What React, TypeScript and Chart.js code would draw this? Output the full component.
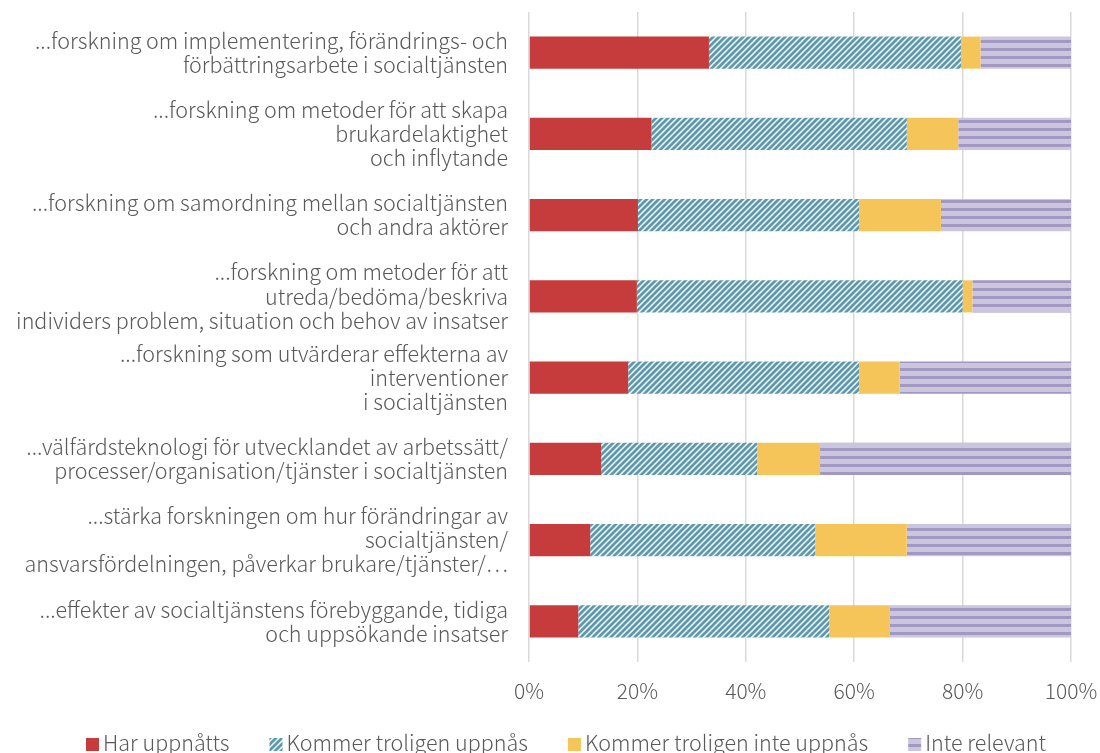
import React, { useEffect, useRef } from "react";
import { Chart, registerables } from "chart.js";

Chart.register(...registerables);

const categories: string[][] = [
  ["...forskning om implementering, förändrings- och", "förbättringsarbete i socialtjänsten"],
  ["...forskning om metoder för att skapa", "brukardelaktighet", "och inflytande"],
  ["...forskning om samordning mellan socialtjänsten", "och andra aktörer"],
  ["...forskning om metoder för att", "utreda/bedöma/beskriva", "individers problem, situation och behov av insatser"],
  ["...forskning som utvärderar effekterna av", "interventioner", "i socialtjänsten"],
  ["...välfärdsteknologi för utvecklandet av arbetssätt/", "processer/organisation/tjänster i socialtjänsten"],
  ["...stärka forskningen om hur förändringar av", "socialtjänsten/", "ansvarsfördelningen, påverkar brukare/tjänster/⋯"],
  ["...effekter av socialtjänstens förebyggande, tidiga", "och uppsökande insatser"],
];

const seriesNames = [
  "Har uppnåtts",
  "Kommer troligen uppnås",
  "Kommer troligen inte uppnås",
  "Inte relevant",
];

const harUppnatts = [33.2, 22.6, 20.1, 19.9, 18.3, 13.3, 11.3, 9.1];
const kommerUppnas = [46.5, 47.1, 40.8, 60.1, 42.6, 28.8, 41.5, 46.3];
const kommerInteUppnas = [3.6, 9.5, 15.1, 1.8, 7.5, 11.6, 16.9, 11.2];
const inteRelevant = [16.7, 20.8, 24.0, 18.2, 31.6, 46.3, 30.3, 33.4];

const xTicks = [0, 20, 40, 60, 80, 100];

const FONT = '"Noto Sans CJK JP", "Noto Sans", sans-serif';
const TEXT = "#595959";

function makeHatch(): CanvasPattern | string {
  const s = 6;
  const c = document.createElement("canvas");
  c.width = s;
  c.height = s;
  const g = c.getContext("2d");
  if (!g) return "#5f9db5";
  g.fillStyle = "#ffffff";
  g.fillRect(0, 0, s, s);
  g.strokeStyle = "#5a99b2";
  g.lineWidth = 2.8;
  g.beginPath();
  g.moveTo(0, s);
  g.lineTo(s, 0);
  g.moveTo(-1, 1);
  g.lineTo(1, -1);
  g.moveTo(s - 1, s + 1);
  g.lineTo(s + 1, s - 1);
  g.stroke();
  return g.createPattern(c, "repeat") || "#5f9db5";
}

function makeStripes(): CanvasPattern | string {
  const c = document.createElement("canvas");
  c.width = 8;
  c.height = 8;
  const g = c.getContext("2d");
  if (!g) return "#b8b1d1";
  g.fillStyle = "#cbc6de";
  g.fillRect(0, 0, 8, 8);
  g.fillStyle = "#a199c1";
  g.fillRect(0, 0, 8, 3);
  return g.createPattern(c, "repeat") || "#b8b1d1";
}

const legendPlugin = {
  id: "bottomLegend",
  afterDraw(chart: any) {
    const ctx: CanvasRenderingContext2D = chart.ctx;
    const ds = chart.data.datasets;
    ctx.save();
    ctx.font = `300 21.5px ${FONT}`;
    ctx.textBaseline = "alphabetic";
    ctx.textAlign = "left";
    const box = 13;
    const gapBox = 4;
    const gapItem = 40;
    const widths = ds.map((d: any) => box + gapBox + ctx.measureText(d.label).width);
    const total = widths.reduce((a: number, b: number) => a + b, 0) + gapItem * (ds.length - 1);
    let x = 566 - total / 2;
    const baseline = chart.height - 2;
    ds.forEach((d: any, i: number) => {
      ctx.fillStyle = d.backgroundColor;
      ctx.fillRect(x, baseline - box, box, box);
      ctx.fillStyle = TEXT;
      ctx.fillText(d.label, x + box + gapBox, baseline);
      x += widths[i] + gapItem;
    });
    ctx.restore();
  },
};

export default function App() {
  const ref = useRef<HTMLCanvasElement>(null);
  useEffect(() => {
    if (!ref.current) return;
    const hatch = makeHatch();
    const stripes = makeStripes();
    const chart = new Chart(ref.current, {
      type: "bar",
      data: {
        labels: categories,
        datasets: [
          { label: seriesNames[0], data: harUppnatts, backgroundColor: "#c63b3b" },
          { label: seriesNames[1], data: kommerUppnas, backgroundColor: hatch as any },
          { label: seriesNames[2], data: kommerInteUppnas, backgroundColor: "#f6c55a" },
          { label: seriesNames[3], data: inteRelevant, backgroundColor: stripes as any },
        ],
      },
      options: {
        indexAxis: "y",
        animation: false,
        responsive: false,
        events: [],
        layout: { padding: { top: 12, right: 29, bottom: 41, left: 0 } },
        datasets: {
          bar: { categoryPercentage: 1, barPercentage: 0.395, borderWidth: 0 },
        },
        plugins: {
          legend: { display: false },
          tooltip: { enabled: false },
        },
        scales: {
          x: {
            stacked: true,
            min: 0,
            max: 100,
            afterBuildTicks: (scale: any) => {
              scale.ticks = xTicks.map((v) => ({ value: v }));
            },
            afterFit: (scale: any) => {
              scale.height = 50;
              scale.paddingLeft = 0;
              scale.paddingRight = 0;
            },
            grid: { color: "#d9d9d9", lineWidth: 1.5, drawTicks: false },
            border: { display: false },
            ticks: {
              padding: 16,
              color: TEXT,
              font: { family: FONT, size: 21, weight: "300" as any },
              callback: (v: any) => `${v}%`,
            },
          },
          y: {
            stacked: true,
            afterFit: (scale: any) => {
              scale.width = 529;
              scale.paddingTop = 0;
              scale.paddingBottom = 0;
            },
            grid: { display: false, drawTicks: false },
            border: { display: false },
            ticks: {
              padding: 21,
              color: TEXT,
              font: { family: FONT, size: 21.5, weight: "300" as any, lineHeight: 1.12 },
            },
          },
        },
      },
      plugins: [legendPlugin],
    });
    return () => chart.destroy();
  }, []);
  return (
    <div style={{ position: "fixed", left: 0, top: 0, width: 1100, height: 753, background: "#fff" }}>
      <canvas ref={ref} width={1100} height={753} />
    </div>
  );
}
